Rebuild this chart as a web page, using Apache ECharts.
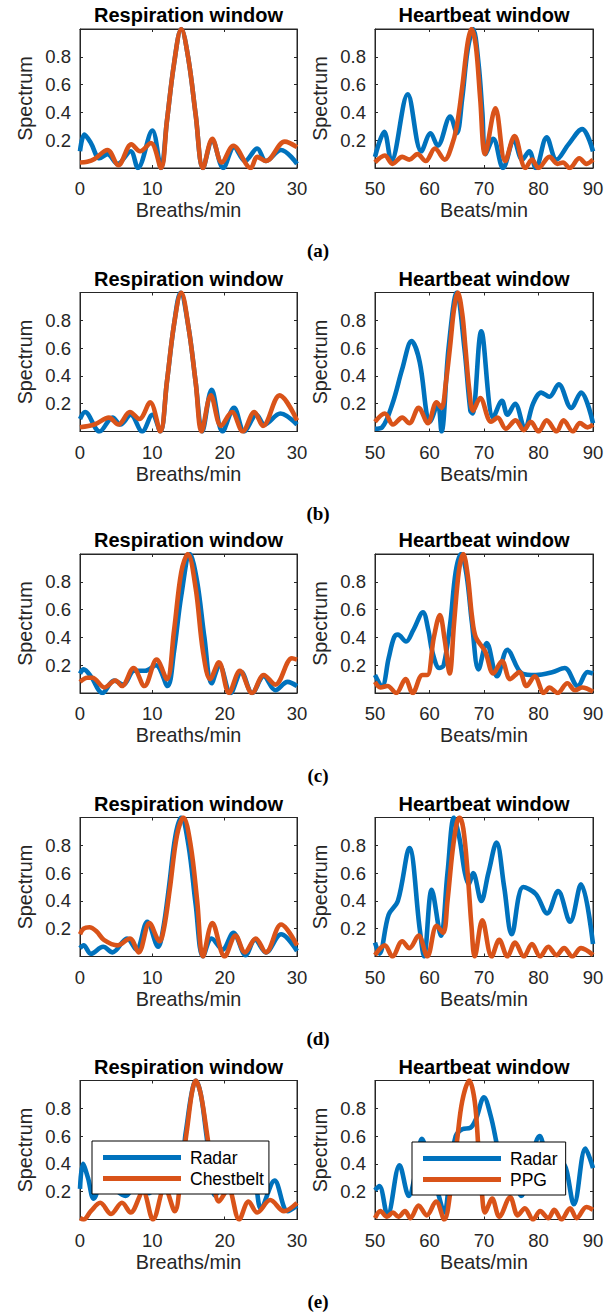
<!DOCTYPE html>
<html>
<head>
<meta charset="utf-8">
<script src="https://cdn.jsdelivr.net/npm/echarts@6/dist/echarts.min.js"></script>
<style>
  html, body { margin: 0; padding: 0; background: #fff; }
  #chart { width: 613px; height: 1315px; }
</style>
</head>
<body>
<div id="chart"></div>
<script>
// ---- Axis ranges and tick labels ----
const respRange = [0, 30];
const heartRange = [50, 90];
const yTickLabels = ['0.2', '0.4', '0.6', '0.8'];
const panelLetters = ['(a)', '(b)', '(c)', '(d)', '(e)'];

// ---- Spectra: [rate, normalised magnitude] ----
// (a)
const respA_radar = [[0,0.12],[0.6,0.24],[1.5,0.18],[2.7,0.07],[3.8,0.10],[5.2,0.03],[7,0.12],[8,0.0],[10,0.27],[11.2,0.0],[12,0.33],[13,0.75],[14,1.0],[15,0.78],[16,0.38],[17,0.0],[18.3,0.20],[19.8,0.0],[21.3,0.15],[22.8,0.05],[24.5,0.14],[25.7,0.05],[27.8,0.13],[30,0.03]];
const respA_belt = [[0,0.04],[1,0.045],[2,0.065],[3.8,0.13],[5.3,0.02],[7.1,0.17],[8.3,0.12],[9.8,0.18],[11.2,0.0],[12,0.33],[13,0.75],[14,1.0],[15,0.78],[16,0.38],[17,0.0],[18.3,0.21],[19.6,0.04],[21.2,0.16],[23.6,0.0],[24.5,0.08],[25.7,0.05],[28.3,0.19],[30,0.15]];
const heartA_radar = [[50,0.08],[51.7,0.26],[53,0.05],[56,0.53],[58.5,0.12],[60.2,0.25],[61.5,0.16],[63.8,0.37],[65,0.25],[66,0.5],[67,0.85],[68,1.0],[69,0.75],[69.7,0.4],[70.3,0.1],[71.7,0.21],[73.5,0.0],[75.5,0.2],[77,0.06],[78.3,0.12],[79.5,0.0],[81.5,0.22],[83.3,0.06],[85.5,0.17],[88,0.28],[90,0.12]];
const heartA_ppg = [[50,0.04],[51.8,0.09],[53.2,0.03],[55,0.08],[56.3,0.06],[57.8,0.1],[59.3,0.05],[61,0.14],[62.8,0.06],[64,0.15],[65,0.3],[66,0.58],[67,0.9],[67.7,1.0],[68.5,0.88],[69.3,0.5],[70.2,0.1],[72.1,0.43],[73.9,0.05],[75.6,0.23],[77.6,0.0],[78.8,0.06],[80,0.0],[82,0.08],[83.5,0.03],[84.5,0.04],[85.7,0.0],[87.5,0.07],[88.8,0.03],[90,0.06]];
// (b)
const respB_radar = [[0,0.09],[0.7,0.14],[2.7,0.0],[4.5,0.1],[5.6,0.05],[7,0.12],[8.6,0.0],[10,0.12],[11.1,0.0],[12,0.35],[13,0.77],[13.9,1.0],[15,0.75],[16,0.35],[16.9,0.0],[18.2,0.3],[19.7,0.0],[21.3,0.17],[22.7,0.0],[24.4,0.12],[25.5,0.05],[27.7,0.13],[30,0.05]];
const respB_belt = [[0,0.03],[2,0.05],[4,0.1],[5.3,0.05],[6.9,0.14],[8.2,0.09],[9.7,0.21],[11.1,0.0],[12,0.35],[13,0.77],[14,1.0],[15,0.75],[16,0.35],[16.8,0.0],[18.1,0.26],[19.5,0.04],[21,0.14],[22.5,0.0],[24.1,0.14],[25.3,0.04],[27.6,0.26],[30,0.08]];
const heartB_radar = [[50,0.02],[51.3,0.03],[53.2,0.2],[55,0.45],[56.7,0.65],[58.2,0.5],[59.5,0.12],[60,0.07],[61.5,0.2],[62.2,0.0],[63.5,0.6],[65,1.0],[66.4,0.6],[67.5,0.15],[67.9,0.13],[69.5,0.72],[71.7,0.1],[73.3,0.22],[74.3,0.12],[75.7,0.2],[77.5,0.02],[79,0.2],[80.5,0.28],[82,0.25],[83.7,0.34],[86,0.17],[87.8,0.28],[90,0.06]];
const heartB_ppg = [[50,0.07],[51.8,0.13],[53.3,0.05],[55,0.1],[56.3,0.06],[58,0.17],[59.7,0.06],[61.3,0.21],[62.2,0.17],[63,0.35],[63.8,0.62],[64.5,0.88],[65.2,1.0],[66,0.85],[66.6,0.6],[67.3,0.3],[68,0.15],[69.3,0.24],[71.3,0.07],[72.5,0.1],[74,0.02],[75.8,0.08],[77.3,0.01],[78.6,0.07],[80,0.0],[81.5,0.08],[83.3,0.0],[84.6,0.08],[86.3,0.0],[87.6,0.06],[89,0.03],[90,0.05]];
// (c)
const respC_radar = [[0,0.14],[0.5,0.17],[1.5,0.12],[3.1,0.0],[4.7,0.09],[6,0.06],[7.5,0.16],[9,0.16],[10.5,0.2],[12.1,0.05],[13,0.3],[14,0.7],[15.2,1.0],[16.2,0.8],[17.2,0.4],[18.2,0.07],[19.3,0.2],[20.8,0.0],[22.3,0.15],[23.8,0.0],[25.4,0.12],[27,0.02],[28.7,0.08],[30,0.05]];
const respC_belt = [[0,0.08],[1,0.11],[1.7,0.11],[3.4,0.04],[4.9,0.09],[5.8,0.05],[7.4,0.18],[8.9,0.05],[10.6,0.24],[12,0.1],[13,0.45],[14,0.87],[14.9,1.0],[16,0.75],[17,0.3],[18,0.1],[19.2,0.22],[20.6,0.0],[22.1,0.16],[23.8,0.0],[25.4,0.13],[27,0.06],[29.3,0.25],[30,0.24]];
const heartC_radar = [[50,0.13],[51.3,0.05],[52.5,0.25],[53.5,0.4],[54.2,0.42],[55.7,0.37],[57,0.45],[58.8,0.58],[59.8,0.45],[60.5,0.3],[61.8,0.18],[62.6,0.2],[63.8,0.5],[64.8,0.87],[65.8,1.0],[66.8,0.85],[67.8,0.5],[69,0.17],[70.5,0.36],[72.4,0.12],[74.3,0.31],[77,0.14],[79.5,0.13],[82.5,0.15],[84.8,0.18],[87.2,0.05],[89,0.15],[90,0.14]];
const heartC_ppg = [[50,0.08],[51,0.04],[52.3,0.05],[53.9,0.0],[55.6,0.1],[56.9,0.0],[58.7,0.13],[59.6,0.13],[60.8,0.4],[61.9,0.56],[62.8,0.38],[63.7,0.14],[64.5,0.5],[65.4,0.88],[66.2,1.0],[67,0.85],[67.8,0.55],[68.5,0.4],[70.2,0.3],[71.7,0.14],[73.3,0.23],[74.8,0.1],[76.5,0.15],[77.8,0.05],[79.3,0.12],[81,0.0],[82,0.04],[83.5,0.0],[85.3,0.07],[86.7,0.02],[88,0.04],[90,0.01]];
// (d)
const respD_radar = [[0,0.06],[0.5,0.08],[1.5,0.02],[3.2,0.07],[4.5,0.03],[6.5,0.13],[7.8,0.05],[9.3,0.25],[10.8,0.07],[11.5,0.2],[12.3,0.5],[13.2,0.87],[14,1.0],[15,0.8],[16,0.37],[17,0.0],[18.2,0.13],[19.7,0.05],[21.2,0.17],[22.9,0.01],[24.2,0.12],[25.7,0.03],[27.8,0.16],[30,0.04]];
const respD_belt = [[0,0.16],[0.5,0.2],[1.3,0.21],[2.3,0.18],[3.3,0.12],[5.2,0.08],[6.9,0.13],[8.1,0.03],[9.6,0.24],[11,0.11],[11.6,0.2],[12.4,0.48],[13.4,0.87],[14.3,1.0],[15.3,0.8],[16.2,0.4],[17,0.0],[18.3,0.24],[20,0.0],[21.5,0.15],[22.8,0.03],[24.3,0.13],[25.7,0.03],[27.8,0.23],[30,0.08]];
const heartD_radar = [[50,0.1],[50.8,0.02],[52.5,0.3],[54.2,0.4],[56.3,0.78],[58.2,0.2],[59,0.0],[60.4,0.48],[62.1,0.15],[63.3,0.6],[64.5,1.0],[65.5,0.85],[66.5,0.6],[67.2,0.52],[68,0.6],[69.5,0.4],[70.8,0.6],[72.3,0.82],[73.7,0.5],[75.1,0.16],[77.2,0.5],[79.5,0.45],[81.6,0.31],[83.6,0.47],[85.8,0.25],[87.8,0.52],[90,0.09]];
const heartD_ppg = [[50,0.01],[51.8,0.08],[53.2,0.0],[55,0.11],[56.3,0.06],[58,0.15],[59.6,0.0],[61.3,0.22],[62.5,0.17],[63.3,0.4],[64.2,0.75],[65,0.96],[65.5,1.0],[66.2,0.92],[67,0.6],[67.7,0.22],[68.3,0.0],[69.7,0.26],[71.4,0.0],[72.8,0.12],[74.3,0.0],[75.7,0.1],[77.3,0.0],[78.8,0.09],[80.3,0.0],[81.8,0.07],[83.3,0.01],[84.7,0.06],[86.2,0.0],[87.8,0.06],[90,0.01]];
// (e)
const respE_radar = [[0,0.22],[0.4,0.4],[1.1,0.3],[1.9,0.15],[3.3,0.3],[4.8,0.22],[6.3,0.17],[7.8,0.25],[9.5,0.19],[10.8,0.3],[12.2,0.36],[13.2,0.45],[14,0.45],[14.6,0.62],[15.4,0.9],[16,1.0],[16.7,0.9],[17.5,0.6],[18.7,0.17],[20,0.3],[21.5,0.35],[23,0.26],[24,0.3],[25,0.08],[26.9,0.28],[28.7,0.06],[30,0.1]];
const respE_belt = [[0,0.01],[0.5,0.0],[1.5,0.06],[2.8,0.12],[4.3,0.04],[5.8,0.12],[7,0.05],[8.7,0.2],[10.1,0.0],[11.7,0.23],[13.1,0.06],[14,0.35],[14.8,0.65],[15.5,0.92],[16,1.0],[16.7,0.9],[17.6,0.6],[18.4,0.3],[19.2,0.13],[20.5,0.22],[22,0.0],[23.3,0.13],[24.5,0.05],[26.3,0.14],[28.2,0.06],[30,0.12]];
const heartE_radar = [[50,0.21],[50.8,0.24],[52.3,0.03],[54.5,0.39],[56.2,0.17],[57.5,0.35],[58.6,0.58],[60,0.4],[61.5,0.2],[62.7,0.05],[63.8,0.35],[64.8,0.6],[66,0.65],[67.5,0.66],[68.5,0.72],[70,0.88],[71.2,0.75],[72.2,0.57],[73.5,0.3],[75,0.35],[76.8,0.17],[78.5,0.4],[80.2,0.6],[81.5,0.45],[83,0.35],[84.5,0.4],[86.5,0.11],[88.6,0.51],[90,0.37]];
const heartE_ppg = [[50,0.01],[51,0.06],[52.2,0.02],[53.3,0.05],[54.3,0.02],[55.5,0.06],[56.5,0.01],[58,0.1],[59.5,0.03],[61.2,0.13],[62.7,0.0],[64,0.25],[65,0.55],[66,0.85],[67.3,1.0],[68.3,0.85],[69,0.5],[69.6,0.2],[70.2,0.05],[71.5,0.15],[72.8,0.02],[74.8,0.16],[76.2,0.03],[77.5,0.08],[79,0.0],[80.3,0.06],[81.8,0.01],[82.9,0.07],[84.2,0.0],[85.8,0.08],[87,0.01],[88.8,0.09],[90,0.07]];

// ---- Panel list (row-major: respiration left, heartbeat right) ----
const panels = [
  { title: 'Respiration window', xName: 'Breaths/min', range: respRange,  radar: respA_radar,  ref: respA_belt,  refName: 'Chestbelt' },
  { title: 'Heartbeat window',   xName: 'Beats/min',   range: heartRange, radar: heartA_radar, ref: heartA_ppg,  refName: 'PPG' },
  { title: 'Respiration window', xName: 'Breaths/min', range: respRange,  radar: respB_radar,  ref: respB_belt,  refName: 'Chestbelt' },
  { title: 'Heartbeat window',   xName: 'Beats/min',   range: heartRange, radar: heartB_radar, ref: heartB_ppg,  refName: 'PPG' },
  { title: 'Respiration window', xName: 'Breaths/min', range: respRange,  radar: respC_radar,  ref: respC_belt,  refName: 'Chestbelt' },
  { title: 'Heartbeat window',   xName: 'Beats/min',   range: heartRange, radar: heartC_radar, ref: heartC_ppg,  refName: 'PPG' },
  { title: 'Respiration window', xName: 'Breaths/min', range: respRange,  radar: respD_radar,  ref: respD_belt,  refName: 'Chestbelt' },
  { title: 'Heartbeat window',   xName: 'Beats/min',   range: heartRange, radar: heartD_radar, ref: heartD_ppg,  refName: 'PPG' },
  { title: 'Respiration window', xName: 'Breaths/min', range: respRange,  radar: respE_radar,  ref: respE_belt,  refName: 'Chestbelt' },
  { title: 'Heartbeat window',   xName: 'Beats/min',   range: heartRange, radar: heartE_radar, ref: heartE_ppg,  refName: 'PPG' }
];

// ---- Layout and style ----
const FONT = 'Liberation Sans, Arial, Helvetica, sans-serif';
const SERIF = 'Liberation Serif, Times New Roman, serif';
const BLUE = '#0072BD';
const ORANGE = '#D95319';
const INK = '#262626';
const COL_LEFT = [80, 375];
const COL_WIDTH = [217, 218];
const ROW_TOP = [29, 292.5, 554, 817.5, 1080.5];
const PLOT_H = 139;
const TICK_FS = 18.5;
const LABEL_FS = 19.8;

const grids = [], xAxes = [], yAxes = [], series = [], graphics = [];

panels.forEach((p, i) => {
  const r = Math.floor(i / 2), c = i % 2;
  const left = COL_LEFT[c], width = COL_WIDTH[c], top = ROW_TOP[r];

  grids.push({ left: left, top: top, width: width, height: PLOT_H,
    show: true, borderColor: INK, borderWidth: 1, backgroundColor: 'rgba(0,0,0,0)' });

  const xBase = {
    gridIndex: i, type: 'value', min: p.range[0], max: p.range[1], interval: 10,
    splitLine: { show: false },
    axisLine: { show: true, onZero: false, lineStyle: { color: INK, width: 1 } },
    axisTick: { show: true, inside: true, length: 3, lineStyle: { color: INK } }
  };
  xAxes.push(Object.assign({}, xBase, {
    position: 'bottom',
    axisLabel: { show: true, color: INK, fontFamily: FONT, fontSize: TICK_FS, margin: 11,
      showMinLabel: true, showMaxLabel: true },
    name: p.xName, nameLocation: 'middle', nameGap: 32,
    nameTextStyle: { color: INK, fontFamily: FONT, fontSize: LABEL_FS }
  }));
  xAxes.push(Object.assign({}, xBase, { position: 'top', axisLabel: { show: false } }));

  const yBase = {
    gridIndex: i, type: 'value', min: 0, max: 1, interval: 0.2,
    splitLine: { show: false },
    axisLine: { show: true, onZero: false, lineStyle: { color: INK, width: 1 } },
    axisTick: { show: true, inside: true, length: 3, lineStyle: { color: INK } }
  };
  yAxes.push(Object.assign({}, yBase, {
    position: 'left',
    axisLabel: { show: true, color: INK, fontFamily: FONT, fontSize: TICK_FS, margin: 9,
      formatter: v => { const s = v.toFixed(1); return yTickLabels.includes(s) ? s : ''; } },
    name: 'Spectrum', nameLocation: 'middle', nameGap: 45,
    nameTextStyle: { color: INK, fontFamily: FONT, fontSize: LABEL_FS }
  }));
  yAxes.push(Object.assign({}, yBase, { position: 'right', axisLabel: { show: false } }));

  const lineCommon = { type: 'line', xAxisIndex: 2 * i, yAxisIndex: 2 * i, showSymbol: false,
    smooth: 0.35, clip: true, animation: false, emphasis: { disabled: true } };
  series.push(Object.assign({}, lineCommon, { name: 'Radar', data: p.radar, color: BLUE,
    lineStyle: { width: 4.6, color: BLUE }, z: 2 }));
  series.push(Object.assign({}, lineCommon, { name: p.refName, data: p.ref, color: ORANGE,
    lineStyle: { width: 4.6, color: ORANGE }, z: 3 }));

  graphics.push({ type: 'text', x: left + width / 2, y: top - 14, silent: true,
    style: { text: p.title, align: 'center', verticalAlign: 'middle', fill: '#000',
      fontFamily: FONT, fontSize: 20, fontWeight: 'bold' } });
});

panelLetters.forEach((t, r) => {
  graphics.push({ type: 'text', x: 318, y: ROW_TOP[r] + PLOT_H + 82, silent: true,
    style: { text: t, align: 'center', verticalAlign: 'middle', fill: '#000',
      fontFamily: SERIF, fontSize: 19, fontWeight: 'bold' } });
});

const legendCommon = {
  orient: 'vertical', icon: 'rect', itemWidth: 78, itemHeight: 5, itemGap: 0,
  borderColor: '#000', borderWidth: 1, backgroundColor: '#fff', borderRadius: 0,
  selectedMode: false, z: 10,
  textStyle: { fontFamily: FONT, fontSize: 17.5, color: '#000', lineHeight: 21, padding: [0, 0, 0, 4] }
};

const option = {
  animation: false,
  backgroundColor: '#fff',
  grid: grids,
  xAxis: xAxes,
  yAxis: yAxes,
  series: series,
  legend: [
    Object.assign({}, legendCommon, { data: ['Radar', 'Chestbelt'], left: 92, top: 1141, padding: [6, 5, 5, 11] }),
    Object.assign({}, legendCommon, { data: ['Radar', 'PPG'], left: 412, top: 1142, padding: [6, 8, 5, 11] })
  ],
  graphic: graphics
};

const chart = echarts.init(document.getElementById('chart'), null, { renderer: 'svg' });
chart.setOption(option);
</script>
</body>
</html>
